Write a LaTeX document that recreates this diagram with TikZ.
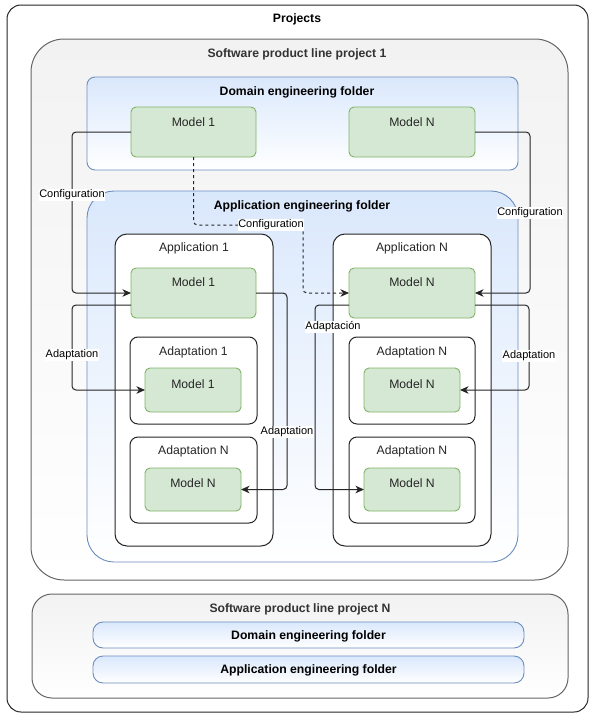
\documentclass[tikz,border=0pt]{standalone}
\usepackage{fontspec}
\setmainfont{Liberation Sans}
\usetikzlibrary{arrows.meta}
\definecolor{splstroke}{HTML}{666666}
\definecolor{splfill}{HTML}{F2F2F2}
\definecolor{bluefill}{HTML}{DAE8FC}
\definecolor{bluestroke}{HTML}{6C8EBF}
\definecolor{greenfill}{HTML}{D5E8D4}
\definecolor{greenstroke}{HTML}{82B366}
\definecolor{darktext}{HTML}{333333}
\newcommand\bx[7]{\node[#1, anchor=north west, minimum width=#5pt, minimum height=#6pt, rounded corners=#7pt] (#2) at (#3,#4) {};}
\begin{document}
\begin{tikzpicture}[x=1pt,y=-1pt,
  every node/.style={inner sep=0pt, outer sep=0pt},
  outerbox/.style={draw=black!85, line width=1pt, fill=white},
  splbox/.style={draw=splstroke, line width=1pt, top color=splfill, bottom color=white},
  bluebox/.style={draw=bluestroke, line width=0.9pt, top color=bluefill, bottom color=white},
  appbox/.style={draw=black!85, line width=1pt, fill=white},
  greenbox/.style={draw=greenstroke, line width=0.9pt, fill=greenfill},
  ttl/.style={font=\fontsize{12.2}{14}\selectfont\bfseries, yshift=-1pt},
  spltitle/.style={font=\fontsize{12.2}{14}\selectfont\bfseries, text=darktext, yshift=-1pt},
  txt/.style={font=\fontsize{12.2}{14}\selectfont, text=black!85, yshift=-1pt},
  lbl/.style={font=\fontsize{11}{13}\selectfont, fill=white, inner sep=0.6pt, text=black},
  conn/.style={draw=black!85, line width=1pt, rounded corners=4pt, -{Stealth[length=8.5pt,width=7.5pt,inset=2.5pt]}}
]
\useasboundingbox (0,0) rectangle (594,720);
% outer
\bx{outerbox}{proj}{7}{5}{581}{707}{14}
\node[ttl] (projt) at (297,18) {Projects};
% SPL project 1
\bx{splbox}{spl1}{31}{39}{537}{541}{33}
\node[spltitle] (spl1t) at (297,53) {Software product line project 1};
% domain folder
\bx{bluebox}{dom1}{87}{77}{431}{93}{8}
\node[ttl] (dom1t) at (297,91) {Domain engineering folder};
\bx{greenbox}{dm1}{131}{107}{125}{50}{5}
\node[txt] (dm1t) at (193.5,121) {Model 1};
\bx{greenbox}{dmN}{349}{107}{126}{50}{5}
\node[txt] (dmNt) at (412,121) {Model N};
% application folder
\bx{bluebox}{app1}{87}{191}{431}{371}{27}
\node[ttl] (app1t) at (302,205) {Application engineering folder};
% Application 1
\bx{appbox}{ap1}{115}{234}{158}{312}{12}
\node[txt] (ap1t) at (194,247) {Application 1};
\bx{greenbox}{am1}{131}{268}{125}{50}{5}
\node[txt] (am1t) at (193.5,281) {Model 1};
\bx{appbox}{ad11}{130}{337}{127}{87}{8}
\node[txt] (ad11t) at (193.5,351) {Adaptation 1};
\bx{greenbox}{ad11m}{145}{368}{96}{44}{5}
\node[txt] (ad11mt) at (193,383) {Model 1};
\bx{appbox}{ad1N}{130}{437}{127}{86}{8}
\node[txt] (ad1Nt) at (193.5,450) {Adaptation N};
\bx{greenbox}{ad1Nm}{145}{468}{96}{43}{5}
\node[txt] (ad1Nmt) at (193,482) {Model N};
% Application N
\bx{appbox}{apN}{333}{234}{158}{312}{12}
\node[txt] (apNt) at (412,247) {Application N};
\bx{greenbox}{amN}{349}{268}{126}{50}{5}
\node[txt] (amNt) at (412,281) {Model N};
\bx{appbox}{adN1}{349}{337}{126}{87}{8}
\node[txt] (adN1t) at (412,351) {Adaptation N};
\bx{greenbox}{adN1m}{364}{368}{96}{44}{5}
\node[txt] (adN1mt) at (412,383) {Model N};
\bx{appbox}{adNN}{349}{437}{126}{86}{8}
\node[txt] (adNNt) at (412,450) {Adaptation N};
\bx{greenbox}{adNNm}{364}{468}{96}{43}{5}
\node[txt] (adNNmt) at (412,482) {Model N};
% SPL project N
\bx{splbox}{splN}{32}{594}{536}{104}{20}
\node[spltitle] (splNt) at (300,608) {Software product line project N};
\bx{bluebox}{domN}{93}{622}{431}{26}{10}
\node[ttl] (domNt) at (308.5,635) {Domain engineering folder};
\bx{bluebox}{appN}{93}{656}{431}{27}{10}
\node[ttl] (appNt) at (308.5,669.5) {Application engineering folder};
% connectors
\draw[conn] (dm1.west) -- (72,132) |- (am1.west);
\draw[conn, dash pattern=on 3pt off 3pt] (dm1.south) |- (303,225) |- (amN.west);
\draw[conn] (dmN.east) -- (530,132) |- (amN.east);
\draw[conn] ([yshift=-12pt]am1.west) -- (72,305) |- (ad11m.west);
\draw[conn] (am1.east) -- (287,293) |- (ad1Nm.east);
\draw[conn] ([yshift=-12pt]amN.west) -- (315,305) |- (adNNm.west);
\draw[conn] ([yshift=-12pt]amN.east) -- (529,305) |- (adN1m.east);
% labels
\node[lbl] (l1) at (72,195) {Configuration};
\node[lbl] (l2) at (271,225) {Configuration};
\node[lbl] (l3) at (530,213) {Configuration};
\node[lbl] (l4) at (72,355) {Adaptation};
\node[lbl] (l5) at (287,432) {Adaptation};
\node[lbl] (l6) at (333,327) {Adaptación};
\node[lbl] (l7) at (529,356) {Adaptation};
\end{tikzpicture}
\end{document}
